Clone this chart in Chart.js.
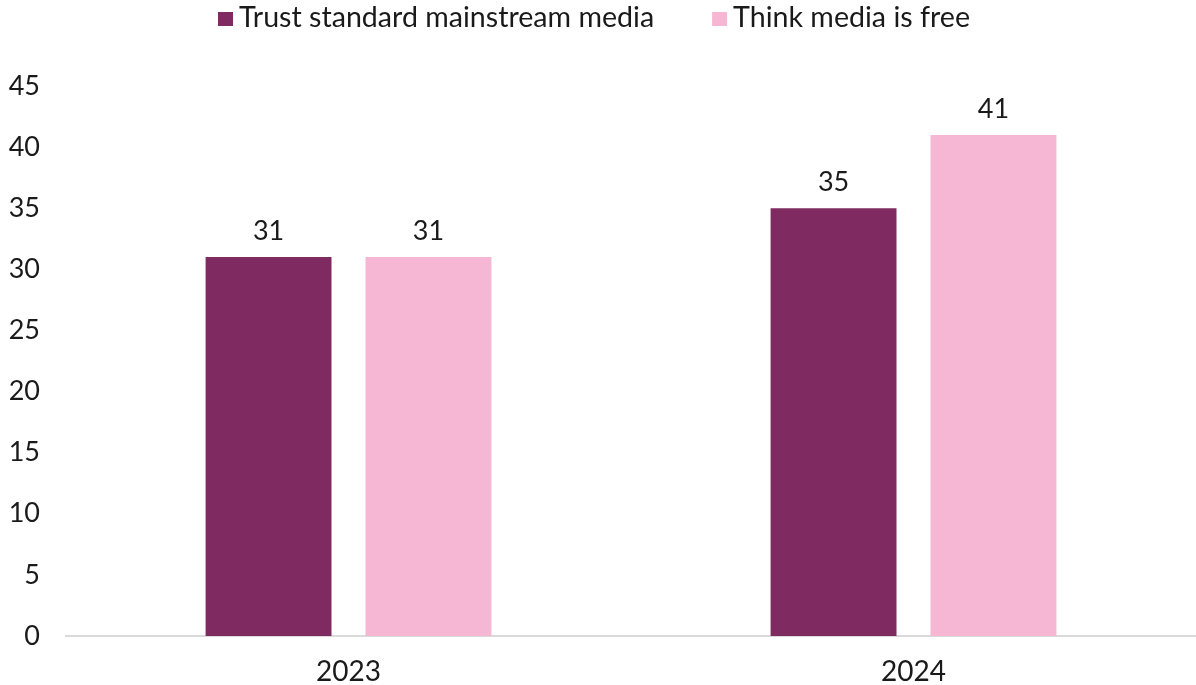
<!DOCTYPE html>
<html>
<head>
<meta charset="utf-8">
<script src="https://cdn.jsdelivr.net/npm/chart.js@4/dist/chart.umd.min.js"></script>
<style>
  html, body { margin: 0; padding: 0; background: #ffffff; }
  #wrap { width: 1196px; height: 685px; position: relative; }
</style>
</head>
<body>
<div id="wrap"><canvas id="chart"></canvas></div>
<script>
// Survey years and shares (%)
const categories = ['2023', '2024'];
const trustMainstream = [31, 35];
const thinkMediaFree = [31, 41];
const seriesNames = ['Trust standard mainstream media', 'Think media is free'];
const yTicks = [0, 5, 10, 15, 20, 25, 30, 35, 40, 45];

const FONT = 'Lato, "Open Sans", sans-serif';
const TEXT = '#1a1a1a';
const DARK = '#7F2A60';
const PINK = '#F5B7D3';

// Writes the value above each bar
const valueLabels = {
  id: 'valueLabels',
  afterDatasetsDraw(chart) {
    const ctx = chart.ctx;
    ctx.save();
    ctx.font = '27px ' + FONT;
    ctx.fillStyle = TEXT;
    ctx.textAlign = 'center';
    ctx.textBaseline = 'middle';
    chart.data.datasets.forEach((ds, i) => {
      chart.getDatasetMeta(i).data.forEach((bar, j) => {
        ctx.fillText(String(ds.data[j]), bar.x, bar.y - 26);
      });
    });
    ctx.restore();
  }
};

// Compact legend row across the top: square swatch, short gap, series name
const topLegend = {
  id: 'topLegend',
  afterDraw(chart) {
    const ctx = chart.ctx;
    const box = 15, gapText = 6, gapItem = 58, baseline = 27;
    ctx.save();
    ctx.font = '28.6px ' + FONT;
    ctx.textBaseline = 'alphabetic';
    ctx.textAlign = 'left';
    const items = chart.data.datasets.map(ds => ({
      label: ds.label, color: ds.backgroundColor, w: ctx.measureText(ds.label).width
    }));
    const total = items.reduce((s, it) => s + box + gapText + it.w, 0) + gapItem * (items.length - 1);
    let x = 594 - total / 2;
    items.forEach(it => {
      ctx.fillStyle = it.color;
      ctx.fillRect(x, 12, box, 14);
      x += box + gapText;
      ctx.fillStyle = TEXT;
      ctx.fillText(it.label, x, baseline);
      x += it.w + gapItem;
    });
    ctx.restore();
  }
};

new Chart(document.getElementById('chart'), {
  type: 'bar',
  data: {
    labels: categories,
    datasets: [
      { label: seriesNames[0], data: trustMainstream, backgroundColor: DARK },
      { label: seriesNames[1], data: thinkMediaFree, backgroundColor: PINK }
    ]
  },
  options: {
    responsive: true,
    maintainAspectRatio: false,
    animation: false,
    categoryPercentage: 0.566,
    barPercentage: 0.7875,
    layout: { padding: { top: 86, right: 0, bottom: 0, left: 0 } },
    plugins: {
      tooltip: { enabled: false },
      legend: { display: false }
    },
    scales: {
      x: {
        afterFit(scale) { scale.height = 49; },
        grid: { display: false, drawTicks: false },
        border: { display: true, color: '#d9d9d9', width: 2 },
        ticks: { color: TEXT, padding: 19, font: { family: FONT, size: 28 } }
      },
      y: {
        min: 0,
        max: 45,
        afterBuildTicks(scale) { scale.ticks = yTicks.map(v => ({ value: v })); },
        afterFit(scale) { scale.width = 66; },
        grid: { display: false, drawTicks: false },
        border: { display: false },
        ticks: { color: TEXT, padding: 26, font: { family: FONT, size: 27 } }
      }
    }
  },
  plugins: [valueLabels, topLegend]
});
</script>
</body>
</html>
